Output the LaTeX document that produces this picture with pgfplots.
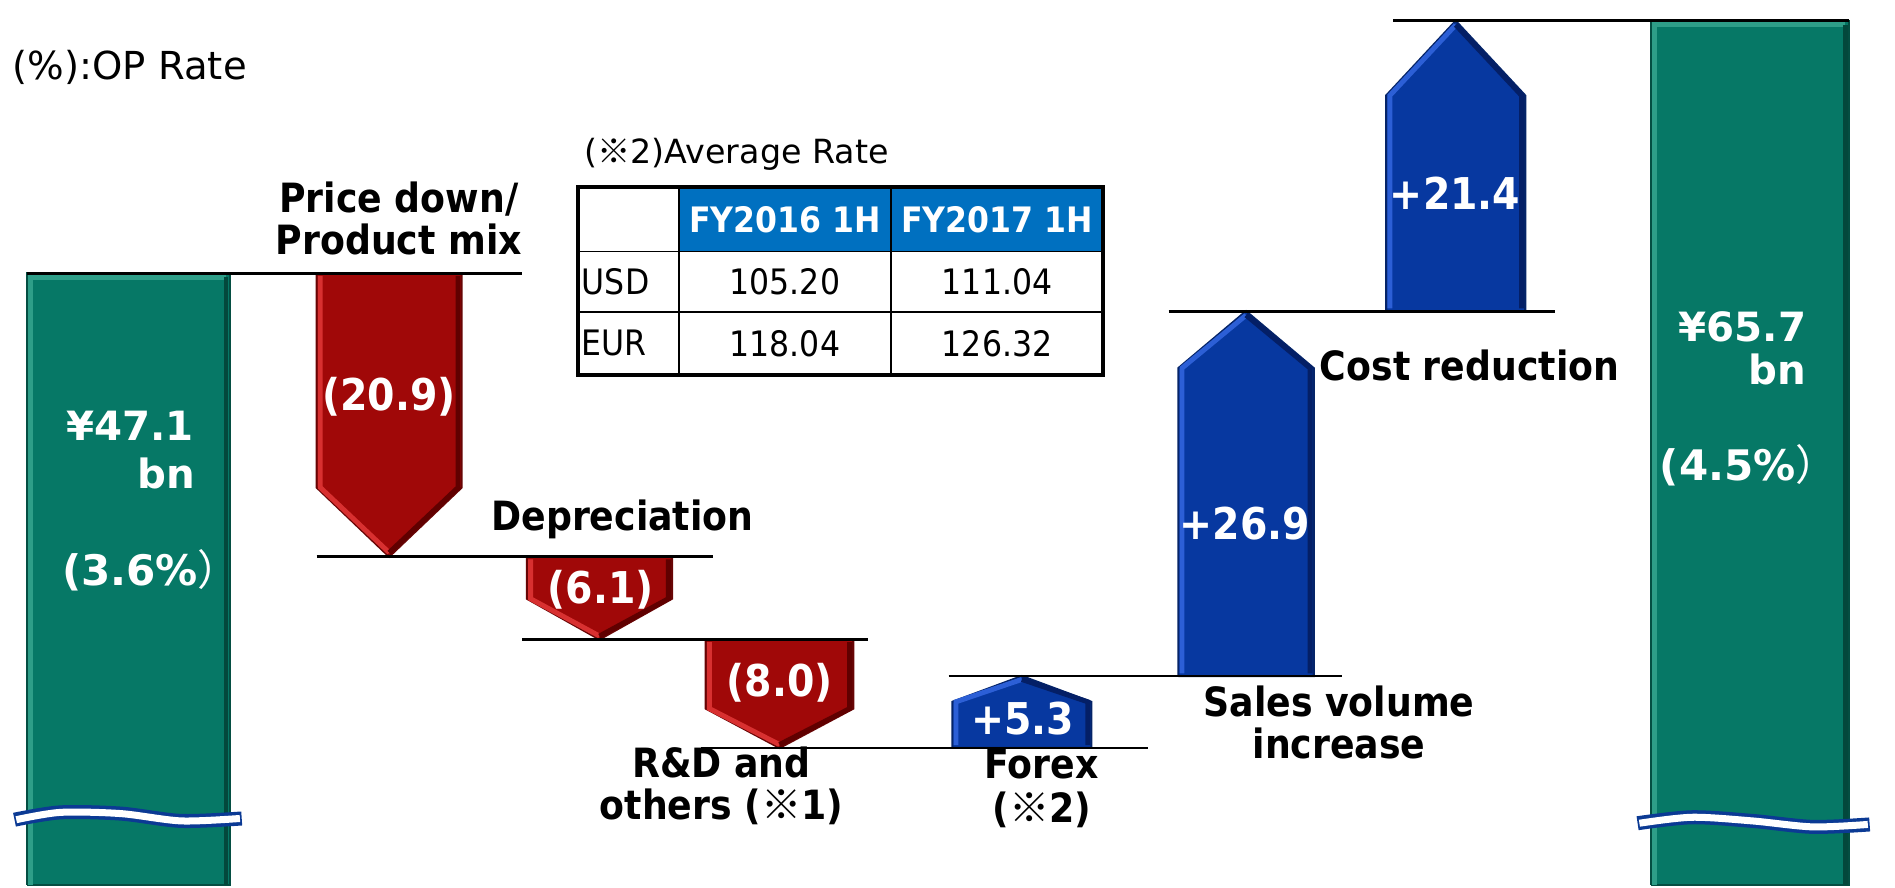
\documentclass[border=0pt]{standalone}
\usepackage{pgfplots}
\pgfplotsset{compat=1.18}
\usepackage{fontspec}
\setmainfont{DejaVu Sans}
\newfontfamily\cond{DejaVu Sans Condensed}
\newfontfamily\cjk{Noto Sans CJK JP}
\definecolor{bargreen}{HTML}{067866}
\definecolor{greenhi}{HTML}{2E9E88}
\definecolor{greenlo}{HTML}{03483C}
\definecolor{arrred}{HTML}{A00808}
\definecolor{redhi}{HTML}{D83030}
\definecolor{redlo}{HTML}{600000}
\definecolor{arrblue}{HTML}{0738A0}
\definecolor{bluehi}{HTML}{2C5FD6}
\definecolor{bluelo}{HTML}{041F66}
\definecolor{hdrblue}{HTML}{0070C0}
\definecolor{breakblue}{HTML}{0B3A94}
\newcommand{\km}{{\cjk ※}}
\tikzset{
    greenbar/.style={fill=bargreen, draw=bargreen!65!black, line width=0.6pt},
    redarrow/.style={fill=arrred, draw=arrred!65!black, line width=0.6pt},
    bluearrow/.style={fill=arrblue, draw=arrblue!65!black, line width=0.6pt},
    hi/.style={line width=1.4pt},
    level/.style={black, line width=0.8pt},
    lbl/.style={font=\cond\bfseries\fontsize{11.5}{12}\selectfont, align=center, inner sep=0pt},
    val/.style={font=\cond\bfseries\fontsize{12.5}{14}\selectfont, text=white, inner sep=0pt},
    tot/.style={font=\bfseries\fontsize{11.5}{13}\selectfont, text=white, inner sep=0pt},
}

\begin{document}
\begin{tikzpicture}
\begin{axis}[
    width=19cm, height=8.873cm, scale only axis,
    xmin=0, xmax=15.68, ymin=2, ymax=67.24,
    hide axis, clip=false,
]
\path (rel axis cs:0,0) rectangle (rel axis cs:1,1);

% start and end totals (bars run down past a break)
\addplot[greenbar] coordinates {(0.22,2)(1.90,2)(1.90,47.1)(0.22,47.1)(0.22,2)};
\addplot[greenbar] coordinates {(13.66,2)(15.30,2)(15.30,65.7)(13.66,65.7)(13.66,2)};
\addplot[greenhi, hi] coordinates {(0.25,2)(0.25,46.8)(1.87,46.8)};
\addplot[greenlo, hi] coordinates {(1.87,46.8)(1.87,2)};
\addplot[greenhi, hi] coordinates {(13.69,2)(13.69,65.4)(15.27,65.4)};
\addplot[greenlo, hi] coordinates {(15.27,65.4)(15.27,2)};

% negative steps: 47.1 -> 26.2 -> 20.1 -> 12.1
\addplot[redarrow] coordinates {(2.62,47.1)(3.82,47.1)(3.82,31.3)(3.22,26.2)(2.62,31.3)(2.62,47.1)};
\addplot[redhi, hi] coordinates {(2.65,46.9)(2.65,31.3)(3.22,26.5)};
\addplot[redlo, hi] coordinates {(3.79,46.9)(3.79,31.3)(3.22,26.5)};
\addplot[redarrow] coordinates {(4.36,26.2)(5.56,26.2)(5.56,23.1)(4.96,20.1)(4.36,23.1)(4.36,26.2)};
\addplot[redhi, hi] coordinates {(4.39,26.0)(4.39,23.1)(4.96,20.35)};
\addplot[redlo, hi] coordinates {(5.53,26.0)(5.53,23.1)(4.96,20.35)};
\addplot[redarrow] coordinates {(5.84,20.1)(7.06,20.1)(7.06,15.0)(6.45,12.1)(5.84,15.0)(5.84,20.1)};
\addplot[redhi, hi] coordinates {(5.87,19.9)(5.87,15.0)(6.45,12.35)};
\addplot[redlo, hi] coordinates {(7.03,19.9)(7.03,15.0)(6.45,12.35)};

% positive steps: 12.1 -> 17.4 -> 44.3 -> 65.7
\addplot[bluearrow] coordinates {(7.88,12.1)(9.03,12.1)(9.03,15.5)(8.455,17.4)(7.88,15.5)(7.88,12.1)};
\addplot[bluehi, hi] coordinates {(7.91,12.3)(7.91,15.5)(8.455,17.15)};
\addplot[bluelo, hi] coordinates {(9.00,12.3)(9.00,15.5)(8.455,17.15)};
\addplot[bluearrow] coordinates {(9.75,17.4)(10.87,17.4)(10.87,40.1)(10.31,44.3)(9.75,40.1)(9.75,17.4)};
\addplot[bluehi, hi] coordinates {(9.78,17.6)(9.78,40.1)(10.31,44.0)};
\addplot[bluelo, hi] coordinates {(10.84,17.6)(10.84,40.1)(10.31,44.0)};
\addplot[bluearrow] coordinates {(11.47,44.3)(12.62,44.3)(12.62,60.2)(12.045,65.7)(11.47,60.2)(11.47,44.3)};
\addplot[bluehi, hi] coordinates {(11.50,44.5)(11.50,60.2)(12.045,65.4)};
\addplot[bluelo, hi] coordinates {(12.59,44.5)(12.59,60.2)(12.045,65.4)};

% level lines
\addplot[level] coordinates {(0.22,47.1)(4.32,47.1)};
\addplot[level] coordinates {(2.62,26.2)(5.90,26.2)};
\addplot[level] coordinates {(4.32,20.1)(7.18,20.1)};
\addplot[level] coordinates {(5.80,12.1)(9.50,12.1)};
\addplot[level] coordinates {(7.85,17.4)(11.10,17.4)};
\addplot[level] coordinates {(9.67,44.3)(12.87,44.3)};
\addplot[level] coordinates {(11.53,65.7)(15.30,65.7)};

% axis break marks
\addplot[breakblue, line width=4pt, smooth] coordinates {(0.12,6.81)(0.50,7.35)(1.00,7.26)(1.50,6.72)(2.00,6.90)};
\addplot[white, line width=2pt, smooth] coordinates {(0.135,6.81)(0.50,7.35)(1.00,7.26)(1.50,6.72)(1.985,6.90)};
\addplot[breakblue, line width=4pt, smooth] coordinates {(13.55,6.55)(14.00,6.99)(14.50,6.72)(15.00,6.28)(15.47,6.46)};
\addplot[white, line width=2pt, smooth] coordinates {(13.565,6.55)(14.00,6.99)(14.50,6.72)(15.00,6.28)(15.455,6.46)};

% texts
\node[anchor=west, inner sep=0pt, font=\fontsize{11}{13}\selectfont] at (axis cs:0.10,62.3) {(\%):OP Rate};

\node[lbl] at (axis cs:3.30,51.15) {Price down/\\Product mix};
\node[lbl] at (axis cs:5.15,28.92) {Depreciation};
\node[lbl, font=\cond\bfseries\fontsize{11.5}{12.2}\selectfont] at (axis cs:5.97,9.30) {R\&D and\\others (\km1)};
\node[lbl, font=\cond\bfseries\fontsize{11.5}{12.6}\selectfont] at (axis cs:8.62,9.10) {Forex\\(\km2)};
\node[lbl, font=\cond\bfseries\fontsize{11.5}{12}\selectfont] at (axis cs:11.08,13.99) {Sales volume\\increase};
\node[lbl] at (axis cs:12.16,40.32) {Cost reduction};

\node[val] at (axis cs:3.22,38.01) {(20.9)};
\node[val] at (axis cs:4.97,23.75) {(6.1)};
\node[val] at (axis cs:6.45,16.88) {(8.0)};
\node[val] at (axis cs:8.46,14.30) {+5.3};
\node[val] at (axis cs:10.30,28.65) {+26.9};
\node[val] at (axis cs:12.04,52.98) {+21.4};

\node[tot, anchor=east] at (axis cs:1.61,35.87) {¥47.1};
\node[tot, anchor=east] at (axis cs:1.62,32.30) {bn};
\node[tot, font=\bfseries\fontsize{12}{14}\selectfont] at (axis cs:1.25,25.17) {(3.6\%{\cjk\mdseries ）}};
\node[tot, anchor=east] at (axis cs:14.95,43.18) {¥65.7};
\node[tot, anchor=east] at (axis cs:14.95,39.97) {bn};
\node[tot, font=\bfseries\fontsize{12}{14}\selectfont] at (axis cs:14.47,32.93) {(4.5\%{\cjk\mdseries ）}};

% average rate table
\node[anchor=west, inner sep=0pt, font=\fontsize{9.5}{11}\selectfont] at (axis cs:4.83,55.83) {(\km2)Average Rate};
\fill[hdrblue] (axis cs:5.62,48.70) rectangle (axis cs:9.13,53.43);
\draw[black, line width=0.5pt] (axis cs:5.62,39.61) -- (axis cs:5.62,53.43);
\draw[black, line width=0.5pt] (axis cs:7.37,39.61) -- (axis cs:7.37,53.43);
\draw[black, line width=0.5pt] (axis cs:4.78,48.70) -- (axis cs:9.13,48.70);
\draw[black, line width=0.5pt] (axis cs:4.78,44.25) -- (axis cs:9.13,44.25);
\draw[black, line width=1.1pt] (axis cs:4.78,39.61) rectangle (axis cs:9.13,53.43);
\node[font=\cond\bfseries\fontsize{10}{12}\selectfont, text=white] at (axis cs:6.495,51.07) {FY2016 1H};
\node[font=\cond\bfseries\fontsize{10}{12}\selectfont, text=white] at (axis cs:8.25,51.07) {FY2017 1H};
\node[anchor=west, inner sep=1pt, font=\cond\fontsize{10}{12}\selectfont] at (axis cs:4.78,46.48) {USD};
\node[anchor=west, inner sep=1pt, font=\cond\fontsize{10}{12}\selectfont] at (axis cs:4.78,41.93) {EUR};
\node[font=\cond\fontsize{10}{12}\selectfont] at (axis cs:6.495,46.48) {105.20};
\node[font=\cond\fontsize{10}{12}\selectfont] at (axis cs:8.25,46.48) {111.04};
\node[font=\cond\fontsize{10}{12}\selectfont] at (axis cs:6.495,41.93) {118.04};
\node[font=\cond\fontsize{10}{12}\selectfont] at (axis cs:8.25,41.93) {126.32};
\end{axis}
\end{tikzpicture}
\end{document}
